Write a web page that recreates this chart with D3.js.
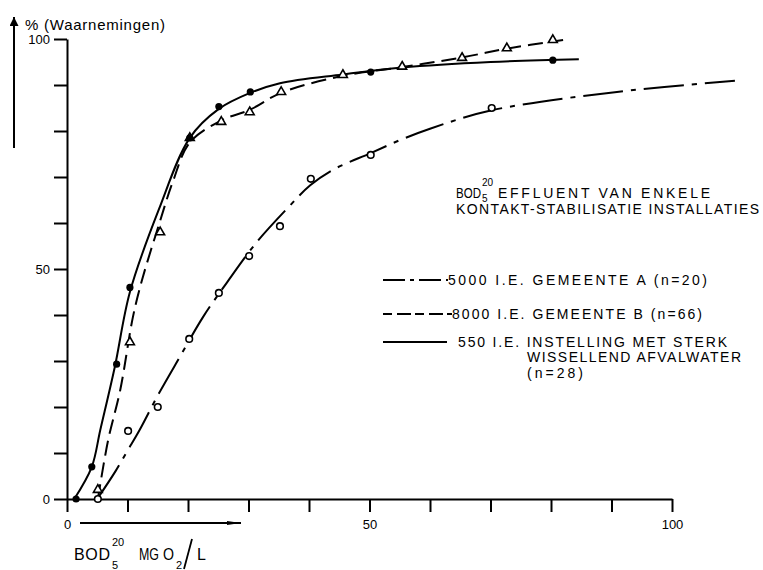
<!DOCTYPE html>
<html><head><meta charset="utf-8">
<script src="https://cdn.jsdelivr.net/npm/d3@7"></script>
<style>
html,body{margin:0;padding:0;background:#fff;}
svg{display:block;font-family:"Liberation Sans",Arial,sans-serif;}
</style></head>
<body>
<svg id="chart" width="763" height="570"></svg>
<script>
// ---- data ----
const xTicks = [0,10,20,30,40,50,60,70,80,90,100];
const yTicks = [0,10,20,30,40,50,60,70,80,90,100];
const labelledTicks = [0,50,100];

// Series A: 5000 I.E. Gemeente A (n=20) - open circles, dash-dot curve
const seriesA_points = [[5.1,0],[10.1,14.8],[15,20],[20.2,34.8],[25.1,44.8],[30.1,52.8],[35.2,59.3],[40.3,69.6],[50.2,74.8],[70.2,85]];
const seriesA_curve  = [[5,0],[8,6],[10,10.5],[12,15],[15,22.5],[18.7,31],[22.5,39.6],[26.4,47],[31.4,55.9],[36.5,63.3],[40.2,68.2],[44,71.6],[50.2,75.2],[55,78],[60,80.5],[70.2,84.5],[90.9,88.5],[110.4,90.9]];

// Series B: 8000 I.E. Gemeente B (n=66) - open triangles, dashed curve
const seriesB_points = [[5.1,2],[10.4,34.1],[15.4,58],[20.3,78.5],[25.5,82],[30.2,84.1],[35.4,88.5],[45.6,92.2],[55.4,94],[65.3,95.9],[72.7,98],[80.3,99.8]];
const seriesB_curve  = [[5.1,0],[6.8,12.8],[8.8,23.7],[10.9,39.6],[12.4,47.6],[15.4,60.5],[17.5,69],[20.3,77.5],[25.5,82.3],[30.2,84.6],[35.4,88.3],[45.6,92],[55.4,93.9],[65.3,96],[72.7,97.9],[82,99.8]];

// Series C: 550 I.E. Instelling (n=28) - filled dots, solid curve
const seriesC_points = [[1.5,0],[4.1,7],[8.2,29.3],[10.4,46],[20.3,78.5],[25.1,85.3],[30.3,88.5],[50.2,92.8],[80.3,95.4]];
const seriesC_curve  = [[1.2,0],[4.1,7],[5.5,15],[7.9,28.7],[10.4,45],[15.2,63],[20.3,78.5],[25.1,84.8],[30.3,88.3],[35.2,90.4],[45.6,92.3],[55.4,93.8],[70,95],[84.6,95.6]];

const legendLabels = ["5000 I.E. GEMEENTE  A (n=20)","8000 I.E. GEMEENTE  B (n=66)","550 I.E. INSTELLING MET STERK","WISSELLEND AFVALWATER","(n=28)"];

// ---- drawing ----
const svg = d3.select("#chart");
const x = d3.scaleLinear().domain([0,100]).range([67,672]);
const y = d3.scaleLinear().domain([0,100]).range([499,39]);

const defs = svg.append("defs");
defs.append("marker").attr("id","ah").attr("viewBox","0 0 10 10")
  .attr("refX",10).attr("refY",5).attr("markerWidth",9).attr("markerHeight",9)
  .attr("markerUnits","userSpaceOnUse").attr("orient","auto")
  .append("path").attr("d","M0,0 L10,5 L0,10 z").attr("fill","#000");
defs.append("marker").attr("id","ah2").attr("viewBox","0 0 20 10")
  .attr("refX",20).attr("refY",5).attr("markerWidth",20).attr("markerHeight",7)
  .attr("markerUnits","userSpaceOnUse").attr("orient","auto")
  .append("path").attr("d","M0,2 L20,5 L0,8 z").attr("fill","#000");

// axes
const xAxis = d3.axisBottom(x).tickValues(xTicks).tickSize(13).tickSizeOuter(0).tickPadding(8)
  .tickFormat(d => labelledTicks.includes(d) ? d : "");
const gx = svg.append("g").attr("transform",`translate(0,${y(0)})`).call(xAxis);
const yAxis = d3.axisLeft(y).tickValues(yTicks).tickSize(13).tickSizeOuter(0).tickPadding(4)
  .tickFormat(d => labelledTicks.includes(d) ? d : "");
const gy = svg.append("g").attr("transform",`translate(${x(0)},0)`).call(yAxis);
[gx,gy].forEach(g=>{
  g.selectAll("path,line").attr("stroke","#000").attr("stroke-width",2);
  g.selectAll("text").attr("font-size",13).attr("fill","#000").attr("font-family","Liberation Sans, Arial, sans-serif");
});

// axis arrows and labels
svg.append("line").attr("x1",14).attr("y1",148).attr("x2",14).attr("y2",17)
  .attr("stroke","#000").attr("stroke-width",2).attr("marker-end","url(#ah)");
svg.append("text").attr("x",25).attr("y",30).attr("font-size",15).attr("textLength",140).text("% (Waarnemingen)");

svg.append("line").attr("x1",80).attr("y1",523).attr("x2",241).attr("y2",523)
  .attr("stroke","#000").attr("stroke-width",2).attr("marker-end","url(#ah2)");
const xl = svg.append("g").attr("font-size",16);
xl.append("text").attr("x",74).attr("y",560).attr("textLength",36).text("BOD");
xl.append("text").attr("x",112).attr("y",546).attr("font-size",11).text("20");
xl.append("text").attr("x",112).attr("y",569).attr("font-size",11).text("5");
xl.append("text").attr("x",139).attr("y",560).attr("textLength",20).attr("lengthAdjust","spacingAndGlyphs").text("MG");
xl.append("text").attr("x",163).attr("y",560).attr("textLength",11).attr("lengthAdjust","spacingAndGlyphs").text("O");
xl.append("text").attr("x",176).attr("y",569).attr("font-size",11).text("2");
svg.append("line").attr("x1",192).attr("y1",539).attr("x2",184).attr("y2",569).attr("stroke","#000").attr("stroke-width",1.8);
xl.append("text").attr("x",197).attr("y",560).text("L");

// curves
const line = d3.line().x(d=>x(d[0])).y(d=>y(d[1])).curve(d3.curveCatmullRom.alpha(0.5));
svg.append("path").datum(seriesA_curve).attr("d",line).attr("fill","none").attr("stroke","#000").attr("stroke-width",2).attr("stroke-dasharray","40,8,5,8");
svg.append("path").datum(seriesB_curve).attr("d",line).attr("fill","none").attr("stroke","#000").attr("stroke-width",2).attr("stroke-dasharray","15,7");
svg.append("path").datum(seriesC_curve).attr("d",line).attr("fill","none").attr("stroke","#000").attr("stroke-width",2);

// markers
svg.selectAll("circle.a").data(seriesA_points).enter().append("circle")
  .attr("cx",d=>x(d[0])).attr("cy",d=>y(d[1])).attr("r",3.3)
  .attr("fill","#fff").attr("stroke","#000").attr("stroke-width",1.6);
const tri = d3.symbol().type(d3.symbolTriangle).size(34);
svg.selectAll("path.b").data(seriesB_points).enter().append("path")
  .attr("transform",d=>`translate(${x(d[0])},${y(d[1])})`).attr("d",tri)
  .attr("fill","#fff").attr("stroke","#000").attr("stroke-width",1.6);
svg.selectAll("circle.c").data(seriesC_points).enter().append("circle")
  .attr("cx",d=>x(d[0])).attr("cy",d=>y(d[1])).attr("r",3.6).attr("fill","#000");

// title
const t = svg.append("g").attr("font-size",14).attr("fill","#000");
t.append("text").attr("x",456).attr("y",198).attr("textLength",25).attr("lengthAdjust","spacingAndGlyphs").text("BOD");
t.append("text").attr("x",482).attr("y",186).attr("font-size",10).text("20");
t.append("text").attr("x",482).attr("y",202).attr("font-size",10).text("5");
t.append("text").attr("x",498).attr("y",198).attr("textLength",212).text("EFFLUENT VAN ENKELE");
t.append("text").attr("x",456).attr("y",214).attr("textLength",303).text("KONTAKT-STABILISATIE INSTALLATIES");

// legend
const lg = svg.append("g").attr("font-size",14);
const legendRows = [
  {y:280, dash:"22,5,4,5", x2:448, tx:448, w:259, label:legendLabels[0]},
  {y:314, dash:"9,5,14,4", x2:452, tx:452, w:250, label:legendLabels[1]},
  {y:342, dash:null, x2:447, tx:458, w:269, label:legendLabels[2]}
];
legendRows.forEach(r=>{
  lg.append("line").attr("x1",383).attr("x2",r.x2).attr("y1",r.y).attr("y2",r.y)
    .attr("stroke","#000").attr("stroke-width",2).attr("stroke-dasharray",r.dash);
  lg.append("text").attr("x",r.tx).attr("y",r.y+5).attr("textLength",r.w).text(r.label);
});
lg.append("text").attr("x",527).attr("y",362).attr("textLength",214).text(legendLabels[3]);
lg.append("text").attr("x",527).attr("y",378).attr("textLength",56).text(legendLabels[4]);
</script>
</body></html>
